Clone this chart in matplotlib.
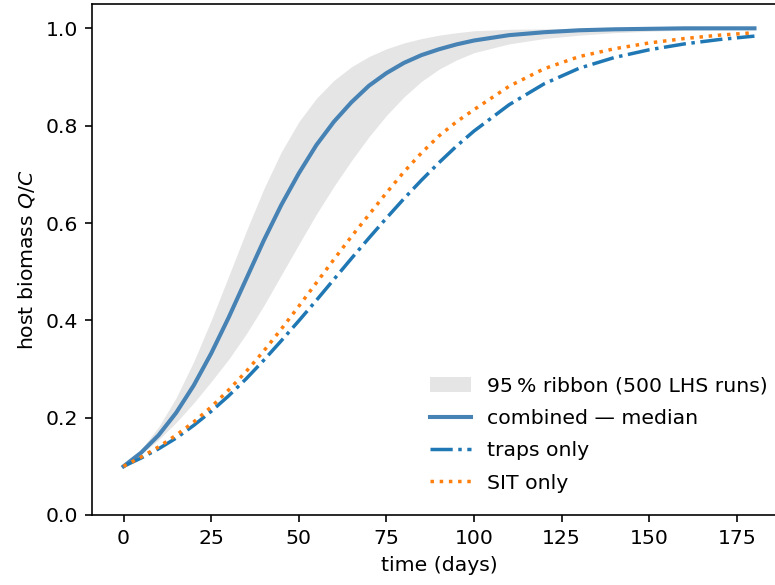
import numpy as np
import matplotlib
matplotlib.use("Agg")
import matplotlib.pyplot as plt

# time grid (days) and curves
days = [0, 5, 10, 15, 20, 25, 30, 35, 40, 45, 50, 55, 60, 65, 70, 75, 80, 85, 90, 95, 100,
        110, 120, 130, 140, 150, 160, 170, 180]

median = [0.100, 0.128, 0.164, 0.210, 0.266, 0.332, 0.406, 0.485, 0.564, 0.637, 0.702,
          0.760, 0.808, 0.848, 0.882, 0.908, 0.929, 0.945, 0.957, 0.967, 0.975,
          0.986, 0.992, 0.996, 0.998, 0.999, 1.000, 1.000, 1.000]

ribbon_hi = [0.100, 0.135, 0.181, 0.241, 0.315, 0.400, 0.491, 0.583, 0.670, 0.746, 0.808,
             0.856, 0.893, 0.921, 0.942, 0.958, 0.970, 0.979, 0.986, 0.991, 0.995,
             0.998, 0.999, 1.000, 1.000, 1.000, 1.000, 1.000, 1.000]

ribbon_lo = [0.100, 0.125, 0.155, 0.190, 0.230, 0.274, 0.320, 0.372, 0.430, 0.493, 0.556,
             0.618, 0.675, 0.728, 0.777, 0.821, 0.859, 0.891, 0.916, 0.935, 0.950,
             0.968, 0.979, 0.986, 0.991, 0.994, 0.996, 0.997, 0.998]

traps = [0.100, 0.117, 0.136, 0.158, 0.184, 0.213, 0.245, 0.280, 0.318, 0.358, 0.399,
         0.441, 0.484, 0.527, 0.569, 0.610, 0.650, 0.688, 0.724, 0.758, 0.789,
         0.843, 0.886, 0.918, 0.940, 0.956, 0.968, 0.977, 0.984]

sit = [0.100, 0.119, 0.140, 0.164, 0.191, 0.222, 0.257, 0.295, 0.337, 0.382, 0.429,
       0.477, 0.525, 0.572, 0.617, 0.662, 0.705, 0.744, 0.779, 0.808, 0.833,
       0.881, 0.917, 0.942, 0.958, 0.970, 0.979, 0.986, 0.991]

dpi = 147
fig = plt.figure(figsize=(775 / dpi, 585 / dpi), dpi=dpi)
ax = fig.add_axes([92 / 775, 70 / 585, 694 / 775, 511 / 585])

ax.fill_between(days, ribbon_lo, ribbon_hi, color='grey', alpha=0.2, lw=0,
                label='95\u2009% ribbon (500 LHS runs)')
ax.plot(days, median, color='steelblue', lw=2.0, label='combined — median')
ax.plot(days, traps, color='tab:blue', lw=1.7, ls='-.', label='traps only')
ax.plot(days, sit, color='tab:orange', lw=1.7, ls=':', label='SIT only')

ax.set_ylim(0, 1.05)
ax.set_xticks([0, 25, 50, 75, 100, 125, 150, 175])
ax.set_yticks([0.0, 0.2, 0.4, 0.6, 0.8, 1.0])
ax.set_xlabel('time (days)')
ax.set_ylabel('host biomass $Q/C$')
ax.legend(loc='lower right', bbox_to_anchor=(1, 0.008), frameon=False, labelspacing=0.65)

fig.savefig('out.png', dpi=dpi)
